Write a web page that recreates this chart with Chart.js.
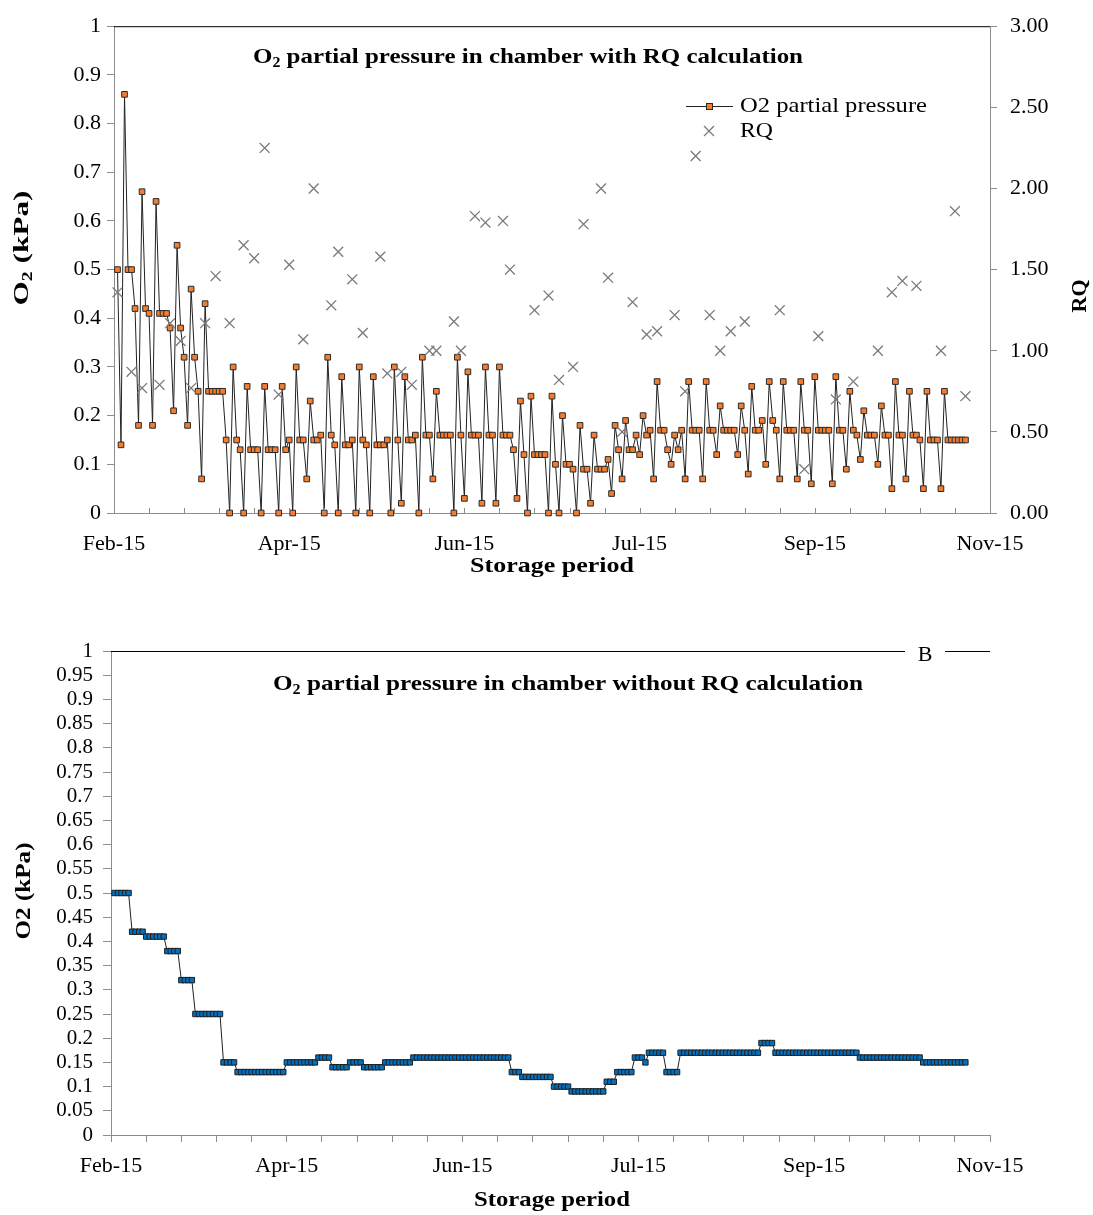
<!DOCTYPE html>
<html>
<head>
<meta charset="utf-8">
<title>O2 partial pressure in chamber</title>
<script src="https://cdn.jsdelivr.net/npm/chart.js@4.4.1/dist/chart.umd.min.js"></script>
<style>
    body { margin: 0; background: #fff; }
    canvas { display: block; }
</style>
</head>
<body>
<canvas id="rqChart" width="1093" height="600"></canvas>
<canvas id="noRqChart" width="1093" height="615"></canvas>
<script>

// x axis runs in storage days (0 = start of axis), one reading per day
const firstDay = 1;

const xTickLabels = ["Feb-15", "Apr-15", "Jun-15", "Jul-15", "Sep-15", "Nov-15"];

const leftTickLabels = ["0", "0.1", "0.2", "0.3", "0.4", "0.5", "0.6", "0.7", "0.8", "0.9", "1"];

const rqTickLabels = ["0.00", "0.50", "1.00", "1.50", "2.00", "2.50", "3.00"];

const bottomTickLabels = ["0", "0.05", "0.1", "0.15", "0.2", "0.25", "0.3", "0.35", "0.4", "0.45", "0.5",
    "0.55", "0.6", "0.65", "0.7", "0.75", "0.8", "0.85", "0.9", "0.95", "1"];

// chamber with RQ calculation, O2 (kPa), daily
const o2WithRq = [
    0.50, 0.14, 0.86, 0.50, 0.50, 0.42, 0.18, 0.66, 0.42, 0.41, 0.18, 0.64, 0.41, 0.41, 0.41, 0.38, 0.21, 0.55,
    0.38, 0.32, 0.18, 0.46, 0.32, 0.25, 0.07, 0.43, 0.25, 0.25, 0.25, 0.25, 0.25, 0.15, 0, 0.30, 0.15, 0.13,
    0, 0.26, 0.13, 0.13, 0.13, 0, 0.26, 0.13, 0.13, 0.13, 0, 0.26, 0.13, 0.15, 0, 0.30, 0.15,
    0.15, 0.07, 0.23, 0.15, 0.15, 0.16, 0, 0.32, 0.16, 0.14, 0, 0.28, 0.14, 0.14, 0.15, 0, 0.30, 0.15,
    0.14, 0, 0.28, 0.14, 0.14, 0.14, 0.15, 0, 0.30, 0.15, 0.02, 0.28, 0.15, 0.15, 0.16, 0, 0.32, 0.16,
    0.16, 0.07, 0.25, 0.16, 0.16, 0.16, 0.16, 0, 0.32, 0.16, 0.03, 0.29, 0.16, 0.16, 0.16, 0.02, 0.30, 0.16,
    0.16, 0.02, 0.30, 0.16, 0.16, 0.16, 0.13, 0.03, 0.23, 0.12, 0, 0.24, 0.12, 0.12, 0.12, 0.12, 0, 0.24,
    0.10, 0, 0.20, 0.10, 0.10, 0.09, 0, 0.18, 0.09, 0.09, 0.02, 0.16, 0.09, 0.09, 0.09, 0.11, 0.04, 0.18,
    0.13, 0.07, 0.19, 0.13, 0.13, 0.16, 0.12, 0.20, 0.16, 0.17, 0.07, 0.27, 0.17, 0.17, 0.13, 0.10, 0.16, 0.13,
    0.17, 0.07, 0.27, 0.17, 0.17, 0.17, 0.07, 0.27, 0.17, 0.17, 0.12, 0.22, 0.17, 0.17, 0.17, 0.17, 0.12, 0.22,
    0.17, 0.08, 0.26, 0.17, 0.17, 0.19, 0.10, 0.27, 0.19, 0.17, 0.07, 0.27, 0.17, 0.17, 0.17, 0.07, 0.27, 0.17,
    0.17, 0.06, 0.28, 0.17, 0.17, 0.17, 0.17, 0.06, 0.28, 0.17, 0.17, 0.09, 0.25, 0.17, 0.16, 0.11, 0.21, 0.16,
    0.16, 0.16, 0.10, 0.22, 0.16, 0.16, 0.05, 0.27, 0.16, 0.16, 0.07, 0.25, 0.16, 0.16, 0.15, 0.05, 0.25, 0.15,
    0.15, 0.15, 0.05, 0.25, 0.15, 0.15, 0.15, 0.15, 0.15, 0.15
];

// RQ readings (day, value)
const rqDays = [
    1, 5, 8, 13, 16, 19, 22, 26, 29, 33, 37, 40, 43, 47, 50, 54, 57, 62, 64, 68, 71,
    76, 78, 82, 85, 90, 92, 97, 99, 103, 106, 111, 113, 120, 124, 127, 131, 134, 139, 141, 145,
    148, 152, 155, 160, 163, 166, 170, 173, 176, 180, 190, 197, 201, 206, 211, 218, 222, 225, 229, 236,
    240, 243
];

const rqValues = [
    1.36, 0.87, 0.77, 0.79, 1.17, 1.06, 0.77, 1.17, 1.46, 1.17, 1.65, 1.57, 2.25, 0.73, 1.53, 1.07, 2.00, 1.28, 1.61, 1.44, 1.11,
    1.58, 0.86, 0.87, 0.79, 1.00, 1.00, 1.18, 1.00, 1.83, 1.79, 1.80, 1.50, 1.25, 1.34, 0.82, 0.90, 1.78, 2.00, 1.45, 0.50,
    1.30, 1.10, 1.12, 1.22, 0.75, 2.20, 1.22, 1.00, 1.12, 1.18, 1.25, 0.27, 1.09, 0.70, 0.81, 1.00, 1.36, 1.43, 1.40, 1.00,
    1.86, 0.72
];

// chamber without RQ calculation, O2 (kPa), daily
const o2WithoutRq = [
    0.50, 0.50, 0.50, 0.50, 0.50,
    0.42, 0.42, 0.42, 0.42,
    0.41, 0.41, 0.41, 0.41, 0.41, 0.41,
    0.38, 0.38, 0.38, 0.38,
    0.32, 0.32, 0.32, 0.32,
    0.25, 0.25, 0.25, 0.25, 0.25, 0.25, 0.25, 0.25,
    0.15, 0.15, 0.15, 0.15,
    0.13, 0.13, 0.13, 0.13, 0.13, 0.13, 0.13, 0.13, 0.13, 0.13, 0.13, 0.13, 0.13, 0.13,
    0.15, 0.15, 0.15, 0.15, 0.15, 0.15, 0.15, 0.15, 0.15,
    0.16, 0.16, 0.16, 0.16,
    0.14, 0.14, 0.14, 0.14, 0.14,
    0.15, 0.15, 0.15, 0.15,
    0.14, 0.14, 0.14, 0.14, 0.14, 0.14,
    0.15, 0.15, 0.15, 0.15, 0.15, 0.15, 0.15, 0.15,
    0.16, 0.16, 0.16, 0.16, 0.16, 0.16, 0.16, 0.16, 0.16, 0.16, 0.16, 0.16, 0.16, 0.16,
    0.16, 0.16, 0.16, 0.16, 0.16, 0.16, 0.16, 0.16, 0.16, 0.16, 0.16, 0.16, 0.16, 0.16,
    0.13, 0.13, 0.13,
    0.12, 0.12, 0.12, 0.12, 0.12, 0.12, 0.12, 0.12, 0.12,
    0.10, 0.10, 0.10, 0.10, 0.10,
    0.09, 0.09, 0.09, 0.09, 0.09, 0.09, 0.09, 0.09, 0.09, 0.09,
    0.11, 0.11, 0.11,
    0.13, 0.13, 0.13, 0.13, 0.13,
    0.16, 0.16, 0.16,
    0.15,
    0.17, 0.17, 0.17, 0.17, 0.17,
    0.13, 0.13, 0.13, 0.13,
    0.17, 0.17, 0.17, 0.17, 0.17, 0.17, 0.17, 0.17, 0.17, 0.17, 0.17, 0.17,
    0.17, 0.17, 0.17, 0.17, 0.17, 0.17, 0.17, 0.17, 0.17, 0.17, 0.17,
    0.19, 0.19, 0.19, 0.19,
    0.17, 0.17, 0.17, 0.17, 0.17, 0.17, 0.17, 0.17, 0.17, 0.17, 0.17, 0.17,
    0.17, 0.17, 0.17, 0.17, 0.17, 0.17, 0.17, 0.17, 0.17, 0.17, 0.17, 0.17,
    0.16, 0.16, 0.16, 0.16, 0.16, 0.16, 0.16, 0.16, 0.16,
    0.16, 0.16, 0.16, 0.16, 0.16, 0.16, 0.16, 0.16, 0.16,
    0.15, 0.15, 0.15, 0.15, 0.15, 0.15, 0.15, 0.15, 0.15, 0.15, 0.15, 0.15, 0.15
];

const serif = "'Liberation Serif', 'Times New Roman', serif";
const axisGrey = "#8c8c8c";
const orange = "#F47D2E";
const blue = "#0070C0";
const tickFont = { family: serif, size: 22 };

// draws a text made of parts ("2" as subscript), stretched to a given width
function drawParts(ctx, parts, x, y, opt) {

    const size = opt.size;
    const weight = opt.bold ? "bold " : "";

    const fontFor = p => weight + (p.sub ? Math.round(size * 0.65) : size) + "px " + serif;

    let natural = 0;
    parts.forEach(p => {
        ctx.font = fontFor(p);
        natural += ctx.measureText(p.t).width;
    });

    const k = opt.width ? opt.width / natural : 1;

    ctx.save();
    ctx.translate(x, y);
    if (opt.rotate) ctx.rotate(-Math.PI / 2);
    ctx.scale(k, 1);
    ctx.fillStyle = "#000";
    ctx.textBaseline = "middle";
    ctx.textAlign = "left";

    let cx = opt.align === "center" ? -natural / 2 : 0;
    parts.forEach(p => {
        ctx.font = fontFor(p);
        ctx.fillText(p.t, cx, p.sub ? size * 0.28 : 0);
        cx += ctx.measureText(p.t).width;
    });

    ctx.restore();
}

function line(ctx, x1, y1, x2, y2, color, w) {
    ctx.save();
    ctx.strokeStyle = color;
    ctx.lineWidth = w;
    ctx.beginPath();
    ctx.moveTo(x1, y1);
    ctx.lineTo(x2, y2);
    ctx.stroke();
    ctx.restore();
}

function xScale(fit) {
    return {
        type: "linear",
        min: 0,
        max: 250,
        afterFit: s => { s.height = fit; },
        border: { color: axisGrey, width: 1 },
        ticks: {
            stepSize: 10,
            autoSkip: false,
            maxRotation: 0,
            color: "#000",
            font: tickFont,
            callback: (v, i) => (i % 5 === 0 ? xTickLabels[i / 5] : "")
        }
    };
}

const topDecor = {

    id: "topDecor",

    afterDraw(chart) {

        const ctx = chart.ctx;
        const a = chart.chartArea;
        const x = chart.scales.x;

        // top frame line
        line(ctx, a.left, a.top + 0.5, a.right, a.top + 0.5, "#000", 1);

        // minor / major ticks point inward on this axis
        for (let v = 10; v < 250; v += 10) {
            const px = Math.round(x.getPixelForValue(v)) + 0.5;
            line(ctx, px, a.bottom, px, a.bottom - 5, axisGrey, 1);
        }

        drawParts(ctx, [{ t: "O" }, { t: "2", sub: true }, { t: " partial pressure in chamber with RQ calculation" }],
            253, 57, { size: 22, bold: true, width: 550 });

        // legend
        line(ctx, 686, 106.5, 733, 106.5, "#222", 1);
        ctx.fillStyle = orange;
        ctx.strokeStyle = "#2a2a2a";
        ctx.lineWidth = 1;
        ctx.fillRect(706.5, 103.5, 6, 6);
        ctx.strokeRect(706.5, 103.5, 6, 6);
        drawParts(ctx, [{ t: "O2 partial pressure" }], 740, 106, { size: 22, width: 187 });

        line(ctx, 704, 126, 714, 136, "#7a7a7a", 1.3);
        line(ctx, 714, 126, 704, 136, "#7a7a7a", 1.3);
        drawParts(ctx, [{ t: "RQ" }], 740, 131, { size: 22, width: 33 });

        // axis titles
        drawParts(ctx, [{ t: "O" }, { t: "2", sub: true }, { t: " (kPa)" }], 22, 248,
            { size: 22, bold: true, rotate: true, align: "center", width: 115 });
        drawParts(ctx, [{ t: "RQ" }], 1080, 296, { size: 22, bold: true, rotate: true, align: "center" });
        drawParts(ctx, [{ t: "Storage period" }], 552, 566, { size: 22, bold: true, align: "center", width: 164 });
    }
};

const bottomDecor = {

    id: "bottomDecor",

    afterDraw(chart) {

        const ctx = chart.ctx;
        const a = chart.chartArea;

        line(ctx, a.left, a.top + 0.5, 905, a.top + 0.5, "#000", 1);
        line(ctx, 945, a.top + 0.5, a.right, a.top + 0.5, "#000", 1);
        drawParts(ctx, [{ t: "B" }], 925, a.top + 4, { size: 22, align: "center" });

        drawParts(ctx, [{ t: "O" }, { t: "2", sub: true }, { t: " partial pressure in chamber without RQ calculation" }],
            273, 84, { size: 22, bold: true, width: 590 });

        drawParts(ctx, [{ t: "O2 (kPa)" }], 25, 291, { size: 21, bold: true, rotate: true, align: "center", width: 97 });
        drawParts(ctx, [{ t: "Storage period" }], 552, 600, { size: 22, bold: true, align: "center", width: 156 });
    }
};

document.addEventListener("DOMContentLoaded", () => {

    const topX = xScale(87);
    topX.grid = { display: false, drawTicks: false };
    topX.ticks.padding = 18;

    new Chart(document.getElementById("rqChart"), {

        type: "line",

        data: {
            datasets: [
                {
                    label: "RQ",
                    data: rqDays.map((d, i) => ({ x: d, y: rqValues[i] })),
                    yAxisID: "y2",
                    showLine: false,
                    pointStyle: "crossRot",
                    pointRadius: 7,
                    pointBorderColor: "#7a7a7a",
                    pointBorderWidth: 1.3,
                    clip: false,
                    order: 1
                },
                {
                    label: "O2 partial pressure",
                    data: o2WithRq.map((v, i) => ({ x: firstDay + i, y: v })),
                    yAxisID: "y",
                    borderColor: "#222",
                    borderWidth: 1,
                    tension: 0,
                    pointStyle: "rect",
                    pointRadius: 4,
                    pointBackgroundColor: orange,
                    pointBorderColor: "#2a2a2a",
                    pointBorderWidth: 1,
                    clip: false,
                    order: 2
                }
            ]
        },

        options: {
            responsive: false,
            animation: false,
            layout: { padding: { top: 24, left: 0, right: 0, bottom: 0 } },
            plugins: {
                legend: { display: false },
                tooltip: { enabled: false }
            },
            scales: {
                x: topX,
                y: {
                    position: "left",
                    min: 0,
                    max: 1,
                    afterFit: s => { s.width = 114; },
                    grid: { drawOnChartArea: false, tickLength: 7, color: axisGrey },
                    border: { color: axisGrey, width: 1 },
                    ticks: {
                        stepSize: 0.1,
                        autoSkip: false,
                        padding: 6,
                        color: "#000",
                        font: tickFont,
                        callback: (v, i) => leftTickLabels[i]
                    }
                },
                y2: {
                    position: "right",
                    min: 0,
                    max: 3,
                    afterFit: s => { s.width = 103; },
                    grid: { drawOnChartArea: false, tickLength: 7, color: axisGrey },
                    border: { color: axisGrey, width: 1 },
                    ticks: {
                        stepSize: 0.5,
                        autoSkip: false,
                        padding: 13,
                        color: "#000",
                        font: tickFont,
                        callback: (v, i) => rqTickLabels[i]
                    }
                }
            }
        },

        plugins: [topDecor]
    });

    const bottomX = xScale(80);
    bottomX.grid = { drawOnChartArea: false, tickLength: 7, color: axisGrey };
    bottomX.ticks.padding = 11;

    new Chart(document.getElementById("noRqChart"), {

        type: "line",

        data: {
            datasets: [
                {
                    label: "O2 partial pressure",
                    data: o2WithoutRq.map((v, i) => ({ x: firstDay + i, y: v })),
                    borderColor: "#222",
                    borderWidth: 1,
                    tension: 0,
                    pointStyle: "rect",
                    pointRadius: 3.8,
                    pointBackgroundColor: blue,
                    pointBorderColor: "#1f1f1f",
                    pointBorderWidth: 1,
                    clip: false
                }
            ]
        },

        options: {
            responsive: false,
            animation: false,
            layout: { padding: { top: 51, left: 0, right: 103, bottom: 0 } },
            plugins: {
                legend: { display: false },
                tooltip: { enabled: false }
            },
            scales: {
                x: bottomX,
                y: {
                    min: 0,
                    max: 1,
                    afterFit: s => { s.width = 111; },
                    grid: { drawOnChartArea: false, tickLength: 8, color: axisGrey },
                    border: { color: axisGrey, width: 1 },
                    ticks: {
                        stepSize: 0.05,
                        autoSkip: false,
                        padding: 10,
                        color: "#000",
                        font: { family: serif, size: 21 },
                        callback: (v, i) => bottomTickLabels[i]
                    }
                }
            }
        },

        plugins: [bottomDecor]
    });

});
</script>
</body>
</html>
